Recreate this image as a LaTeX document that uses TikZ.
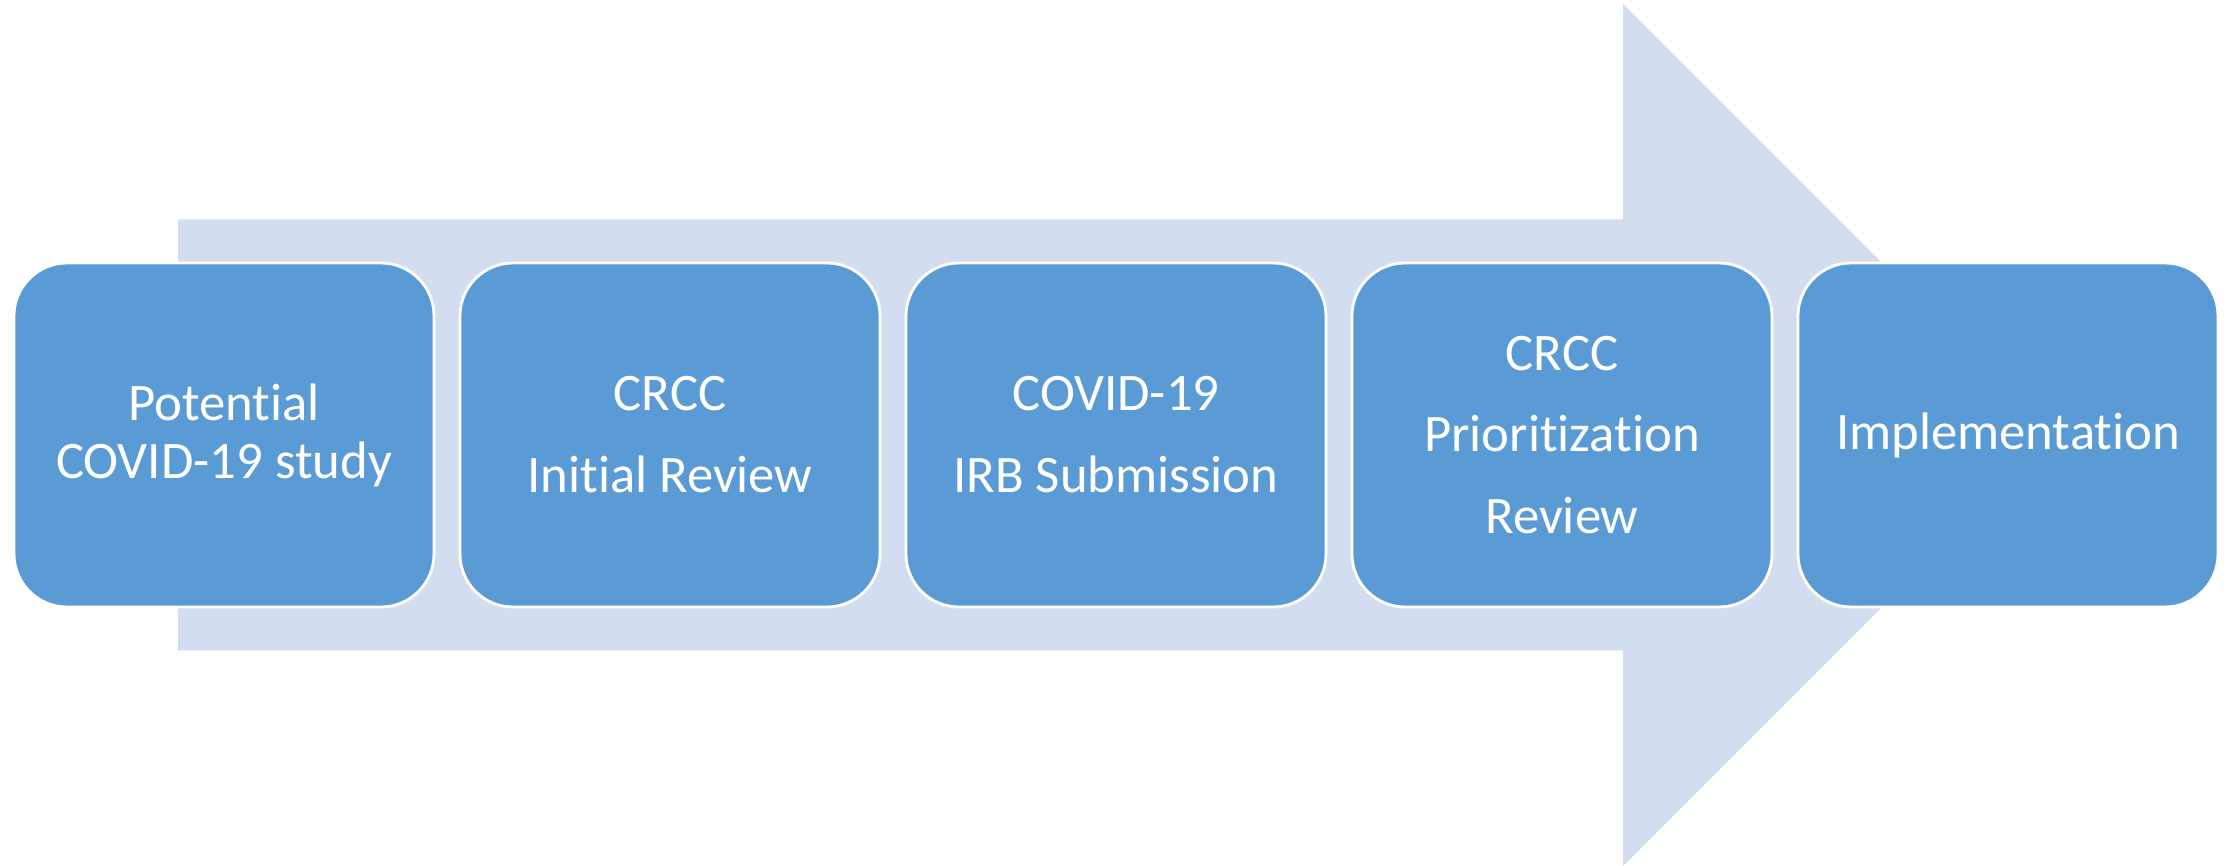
\documentclass[tikz,border=0pt]{standalone}
\usepackage{fontspec}
\setmainfont{Carlito}[Ligatures=NoCommon]
\usetikzlibrary{positioning}
\definecolor{arrowblue}{HTML}{D2DEEF}
\definecolor{boxblue}{HTML}{5B9BD5}
\tikzset{
  stage/.style={draw=white, line width=0.8pt, fill=boxblue, rounded corners=0.53cm,
    minimum width=4.2cm, minimum height=3.44cm, inner sep=0pt, outer sep=0pt,
    text=white, align=center, font=\fontsize{15}{23.3}\selectfont,
    execute at begin node=\vspace*{0.12cm}},
  tight/.style={font=\fontsize{15}{16.5}\selectfont}
}
\begin{document}
\begin{tikzpicture}
  \useasboundingbox (0,0) rectangle (22.33,8.66);
  % big arrow behind
  \fill[arrowblue] (1.78,2.155) -- (1.78,6.465) -- (16.23,6.465) -- (16.23,8.62)
    -- (20.54,4.31) -- (16.23,0) -- (16.23,2.155) -- cycle;
  % stages
  \node[stage, tight] (s1) at (2.24,4.31) {Potential\\COVID-19 study};
  \node[stage, right=0.26cm of s1] (s2) {CRCC\\Initial Review};
  \node[stage, right=0.26cm of s2] (s3) {COVID-19\\IRB Submission};
  \node[stage, right=0.26cm of s3] (s4) {CRCC\\Prioritization\\Review};
  \node[stage, right=0.26cm of s4] (s5) {Implementation};
\end{tikzpicture}
\end{document}
